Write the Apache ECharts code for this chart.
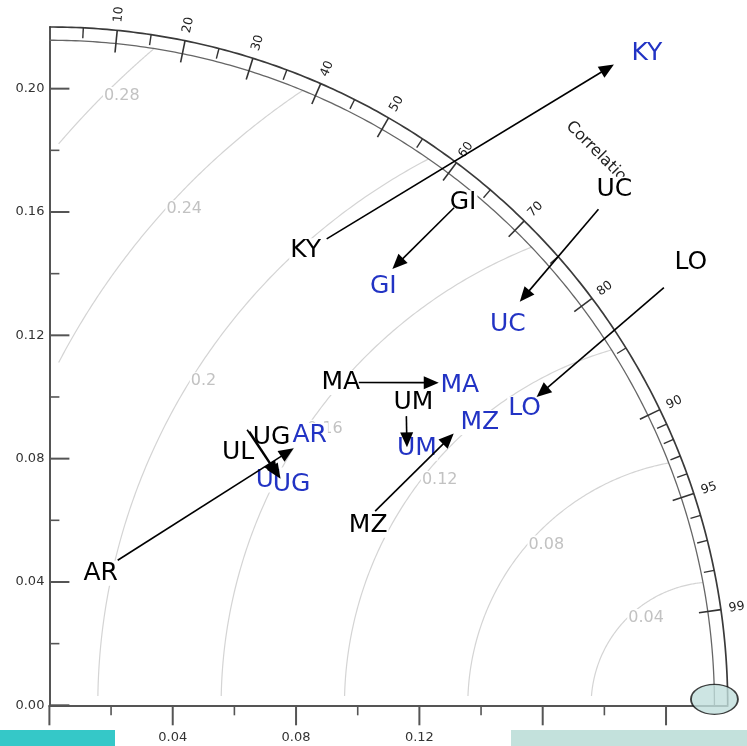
<!DOCTYPE html>
<html><head><meta charset="utf-8">
<script src="https://cdn.jsdelivr.net/npm/echarts@6/dist/echarts.min.js"></script>
<style>html,body{margin:0;padding:0;background:#fff}#c{width:747px;height:746px}</style>
</head><body><div id="c"></div>
<script>
// ---------- data ----------
const sites = ['KY','GI','UC','LO','MA','UM','MZ','AR','UL','UG'];
const stdBlack  = [0.176,0.208,0.240,0.241,0.145,0.149,0.123,0.052,0.110,0.110];
const corrBlack = [0.511,0.631,0.742,0.827,0.692,0.777,0.859,0.426,0.583,0.590];
const stdBlue   = [0.277,0.180,0.201,0.187,0.164,0.143,0.158,0.115,0.105,0.105];
const corrBlue  = [0.661,0.618,0.759,0.845,0.770,0.811,0.830,0.689,0.706,0.714];
const refStd = 0.2157;
const rmsLevels = [0.04,0.08,0.12,0.16,0.20,0.24,0.28];
const rmsLabels = ['0.04','0.08','0.12','0.16','0.2','0.24','0.28'];
const corrMajor = [0.1,0.2,0.3,0.4,0.5,0.6,0.7,0.8,0.9,0.95,0.99];
const corrMajorLabels = ['10','20','30','40','50','60','70','80','90','95','99'];
const corrMinor = [0.05,0.15,0.25,0.35,0.45,0.55,0.65,0.75,0.85,0.91,0.92,0.93,0.94,0.96,0.97,0.98];
const corrTitle = 'Correlation';
const xTickLabels = ['0.00','0.04','0.08','0.12','0.16','0.20'];
const yTickLabels = ['0.00','0.04','0.08','0.12','0.16','0.20'];
const minorTickValues = [0.02,0.06,0.10,0.14,0.18];
const axisMax = 0.22;

// ---------- layout / style ----------
const layout = {
  rTickIn: 0.2128, rMinorIn: 0.2166, rCorrLabel: 0.2252, rTitle: 0.2524,
  rmsLabelAngle: [135,139.3,142.5,145.9,148.3,137.9,135.1],
  rmsGap: 0.003,
  blackOffset: [[-21,12],[9,-5],[16,-20],[27,-25],[-18,0],[7,-14],[-7,14],[-17,13],[-9,23],[22,6]],
  blueOffset:  [[33,-11],[-9,17.5],[-12,23],[-12,12],[21,3],[10,1],[26,-11],[16,-13],[-6,4],[11,6]]
};
const FONT = '"DejaVu Sans", sans-serif';

const toXY = (s, c) => [s * c, s * Math.sqrt(1 - c * c)];
const blackXY = sites.map((_, i) => toXY(stdBlack[i], corrBlack[i]));
const blueXY  = sites.map((_, i) => toXY(stdBlue[i], corrBlue[i]));

function frameRender(params, api) {
  const ch = [];
  const P = (x, y) => api.coord([x, y]);
  const polar = (r, a) => P(r * Math.cos(a), r * Math.sin(a));
  const arcPts = (cx, r, a0, a1, n) => {
    const pts = [];
    for (let i = 0; i <= n; i++) { const a = a0 + (a1 - a0) * i / n; pts.push(P(cx + r * Math.cos(a), r * Math.sin(a))); }
    return pts;
  };
  const g = layout.rmsGap;
  rmsLevels.forEach((rho, i) => {
    const phiMin = Math.acos(Math.max(-1, Math.min(1, -rho / (2 * refStd))));
    let phiMax = Math.PI - Math.asin(g / rho);
    const c = (g - refStd) / rho;
    if (c > -1) phiMax = Math.min(phiMax, Math.acos(c));
    ch.push({type: 'polyline', shape: {points: arcPts(refStd, rho, phiMin, phiMax, 160)},
      style: {stroke: '#d4d4d4', lineWidth: 1.2, fill: 'none'}, z2: 1});
    const a = layout.rmsLabelAngle[i] * Math.PI / 180;
    const p = P(refStd + rho * Math.cos(a), rho * Math.sin(a));
    ch.push({type: 'text', x: p[0], y: p[1], z2: 2,
      style: {text: rmsLabels[i], fill: '#c2c2c2', fontSize: 16, fontFamily: FONT,
        align: 'left', verticalAlign: 'middle', backgroundColor: '#fff', padding: [1, 1]}});
  });
  ch.push({type: 'polyline', shape: {points: arcPts(0, axisMax, 0, Math.PI / 2, 240)},
    style: {stroke: '#3a3a3a', lineWidth: 1.7, fill: 'none'}, z2: 5});
  ch.push({type: 'polyline', shape: {points: arcPts(0, refStd, 0, Math.PI / 2, 240)},
    style: {stroke: '#666', lineWidth: 1.3, fill: 'none'}, z2: 5});
  corrMajor.forEach((cv, i) => {
    const a = Math.acos(cv);
    const p0 = polar(layout.rTickIn, a), p1 = polar(axisMax, a);
    ch.push({type: 'line', shape: {x1: p0[0], y1: p0[1], x2: p1[0], y2: p1[1]},
      style: {stroke: '#333', lineWidth: 1.6}, z2: 5});
    const pl = polar(layout.rCorrLabel, a);
    ch.push({type: 'text', x: pl[0], y: pl[1], rotation: a, z2: 5,
      style: {text: corrMajorLabels[i], fill: '#222', fontSize: 12.5, fontFamily: FONT,
        align: 'center', verticalAlign: 'middle'}});
  });
  corrMinor.forEach(cv => {
    const a = Math.acos(cv);
    const p0 = polar(layout.rMinorIn, a), p1 = polar(axisMax, a);
    ch.push({type: 'line', shape: {x1: p0[0], y1: p0[1], x2: p1[0], y2: p1[1]},
      style: {stroke: '#333', lineWidth: 1.4}, z2: 5});
  });
  const pt = polar(layout.rTitle, Math.PI / 4);
  ch.push({type: 'text', x: pt[0], y: pt[1], rotation: -Math.PI / 4, z2: 5,
    style: {text: corrTitle, fill: '#222', fontSize: 16, fontFamily: FONT, align: 'center', verticalAlign: 'middle'}});
  xTickLabels.map(Number).forEach(v => {
    const px = P(v, 0);
    ch.push({type: 'line', shape: {x1: px[0], y1: px[1], x2: px[0], y2: px[1] + 20}, style: {stroke: '#555', lineWidth: 2}, z2: 5});
  });
  yTickLabels.map(Number).forEach(v => {
    const py = P(0, v);
    ch.push({type: 'line', shape: {x1: py[0], y1: py[1], x2: py[0] + 20, y2: py[1]}, style: {stroke: '#555', lineWidth: 2}, z2: 5});
  });
  minorTickValues.forEach(v => {
    const px = P(v, 0), py = P(0, v);
    ch.push({type: 'line', shape: {x1: px[0], y1: px[1], x2: px[0], y2: px[1] + 10}, style: {stroke: '#555', lineWidth: 1.6}, z2: 5});
    ch.push({type: 'line', shape: {x1: py[0], y1: py[1], x2: py[0] + 10, y2: py[1]}, style: {stroke: '#555', lineWidth: 1.6}, z2: 5});
  });
  return {type: 'group', children: ch};
}

function arrowRender(params, api) {
  const p0 = api.coord([api.value(0), api.value(1)]);
  const p1 = api.coord([api.value(2), api.value(3)]);
  const dx = p1[0] - p0[0], dy = p1[1] - p0[1];
  const L = Math.hypot(dx, dy) || 1;
  const ux = dx / L, uy = dy / L;
  const hl = 15, hw = 6.5;
  const bx = p1[0] - ux * hl, by = p1[1] - uy * hl;
  return {type: 'group', children: [
    {type: 'line', shape: {x1: p0[0], y1: p0[1], x2: bx + ux, y2: by + uy}, style: {stroke: '#000', lineWidth: 1.6}},
    {type: 'polygon', shape: {points: [[p1[0], p1[1]], [bx - uy * hw, by + ux * hw], [bx + uy * hw, by - ux * hw]]}, style: {fill: '#000'}}
  ]};
}

const labelCommon = {show: true, position: 'inside', formatter: '{b}', fontSize: 25, fontFamily: FONT,
  backgroundColor: '#fff', padding: [0, 1], textBorderWidth: 0, textBorderColor: 'transparent',
  textShadowBlur: 0, opacity: 1};
const fmt = list => v => { const s = (+v).toFixed(2); return list.includes(s) ? s : ''; };
const chart = echarts.init(document.getElementById('c'), null, {renderer: 'canvas'});
chart.setOption({
  animation: false,
  backgroundColor: '#fff',
  grid: {left: 49.4, top: 27, width: 678.3, height: 678.3},
  xAxis: {type: 'value', min: 0, max: axisMax, interval: 0.04,
    axisLine: {show: true, onZero: false, lineStyle: {color: '#555', width: 2}},
    axisTick: {show: false}, splitLine: {show: false},
    axisLabel: {margin: 26, fontSize: 13, fontFamily: FONT, color: '#333', formatter: fmt(xTickLabels)}},
  yAxis: {type: 'value', min: 0, max: axisMax, interval: 0.04,
    axisLine: {show: true, onZero: false, lineStyle: {color: '#555', width: 2}},
    axisTick: {show: false}, splitLine: {show: false},
    axisLabel: {margin: 5, fontSize: 13, fontFamily: FONT, color: '#333', formatter: fmt(yTickLabels)}},
  series: [
    {type: 'custom', renderItem: frameRender, data: [[0, 0]], z: 2, silent: true, clip: false},
    {type: 'scatter', z: 3, silent: true, symbolSize: 1, itemStyle: {color: '#fff', opacity: 0},
      data: sites.map((s, i) => ({name: s, value: blackXY[i], label: {offset: layout.blackOffset[i]}})),
      label: Object.assign({}, labelCommon, {color: '#000'})},
    {type: 'scatter', z: 3, silent: true, symbolSize: 1, itemStyle: {color: '#fff', opacity: 0},
      data: sites.map((s, i) => ({name: s, value: blueXY[i], label: {offset: layout.blueOffset[i]}})),
      label: Object.assign({}, labelCommon, {color: '#2233c4'})},
    {type: 'custom', renderItem: arrowRender, z: 4, silent: true, clip: false,
      data: sites.map((s, i) => [blackXY[i][0], blackXY[i][1], blueXY[i][0], blueXY[i][1]])},
    {type: 'scatter', z: 5, silent: true, clip: false,
      symbol: 'path://M0,50A50,50 0 1 1 100,50A50,50 0 1 1 0,50Z', symbolSize: [47, 30], symbolOffset: [0, -6],
      itemStyle: {color: '#c1dfdc', borderColor: '#111', borderWidth: 1.5},
      data: [[refStd, 0]]}
  ],
  graphic: [
    {type: 'rect', left: 0, top: 730, z: 100, shape: {width: 115, height: 16}, style: {fill: '#35c8c8'}},
    {type: 'rect', left: 511, top: 730, z: 100, shape: {width: 236, height: 16}, style: {fill: '#c3e1dc'}}
  ]
});
</script></body></html>
